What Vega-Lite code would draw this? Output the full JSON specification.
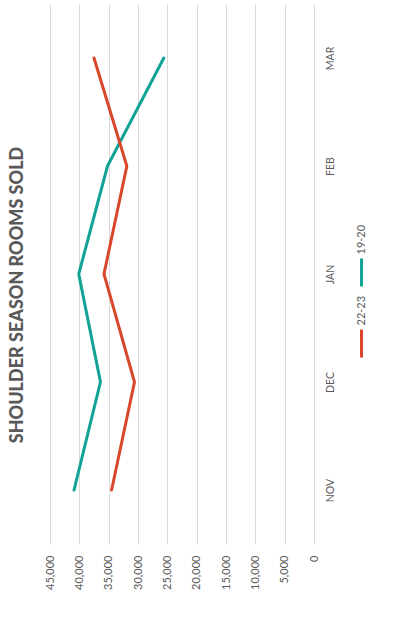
{
  "$schema": "https://vega.github.io/schema/vega-lite/v6.json",
  "width": 264,
  "height": 540,
  "autosize": {"type": "none"},
  "padding": {"left": 50, "top": 4, "right": 79, "bottom": 79},
  "background": "#ffffff",
  "config": {
    "font": "Lato",
    "view": {"stroke": null}
  },
  "title": {
    "text": "SHOULDER SEASON ROOMS SOLD",
    "orient": "left",
    "anchor": "middle",
    "fontSize": 18,
    "fontWeight": 900,
    "color": "#595959",
    "offset": 17,
    "dx": -21
  },
  "data": {
    "values": [
      {"month": "NOV", "m": 1, "season": "19-20", "rooms": 40900},
      {"month": "DEC", "m": 2, "season": "19-20", "rooms": 36400},
      {"month": "JAN", "m": 3, "season": "19-20", "rooms": 40100},
      {"month": "FEB", "m": 4, "season": "19-20", "rooms": 35200},
      {"month": "MAR", "m": 5, "season": "19-20", "rooms": 25600},
      {"month": "NOV", "m": 1, "season": "22-23", "rooms": 34500},
      {"month": "DEC", "m": 2, "season": "22-23", "rooms": 30600},
      {"month": "JAN", "m": 3, "season": "22-23", "rooms": 35800},
      {"month": "FEB", "m": 4, "season": "22-23", "rooms": 31900},
      {"month": "MAR", "m": 5, "season": "22-23", "rooms": 37500}
    ]
  },
  "mark": {"type": "line", "strokeWidth": 3, "strokeCap": "round"},
  "encoding": {
    "x": {
      "field": "rooms",
      "type": "quantitative",
      "scale": {"domain": [0, 45000], "reverse": true, "nice": false},
      "axis": {
        "title": null,
        "values": [0, 5000, 10000, 15000, 20000, 25000, 30000, 35000, 40000, 45000],
        "format": ",d",
        "labelAngle": 270,
        "labelAlign": "right",
        "labelBaseline": "middle",
        "labelPadding": 11,
        "labelFontSize": 11,
        "labelColor": "#595959",
        "domain": false,
        "ticks": false,
        "grid": true,
        "gridColor": "#d9d9d9",
        "gridWidth": 1
      }
    },
    "y": {
      "field": "month",
      "type": "ordinal",
      "sort": ["MAR", "FEB", "JAN", "DEC", "NOV"],
      "axis": {
        "title": null,
        "orient": "right",
        "labelAngle": 270,
        "labelAlign": "center",
        "labelBaseline": "top",
        "labelPadding": 11,
        "labelFontSize": 10.5,
        "labelColor": "#595959",
        "domain": false,
        "ticks": false,
        "grid": false
      }
    },
    "order": {"field": "m", "type": "quantitative"},
    "color": {
      "field": "season",
      "type": "nominal",
      "scale": {"domain": ["19-20", "22-23"], "range": ["#10A294", "#D9472B"]},
      "legend": {
        "title": null,
        "orient": "none",
        "legendX": 296,
        "legendY": 253,
        "direction": "vertical",
        "symbolType": "M0,-1L0,1",
        "symbolSize": 784,
        "symbolStrokeWidth": 3,
        "labelFontSize": 11,
        "labelColor": "#595959",
        "rowPadding": 2,
        "encode": {
          "labels": {
            "update": {
              "angle": {"value": -90},
              "align": {"value": "left"},
              "baseline": {"value": "middle"},
              "dx": {"value": 18},
              "dy": {"value": -19}
            }
          }
        }
      }
    }
  }
}
